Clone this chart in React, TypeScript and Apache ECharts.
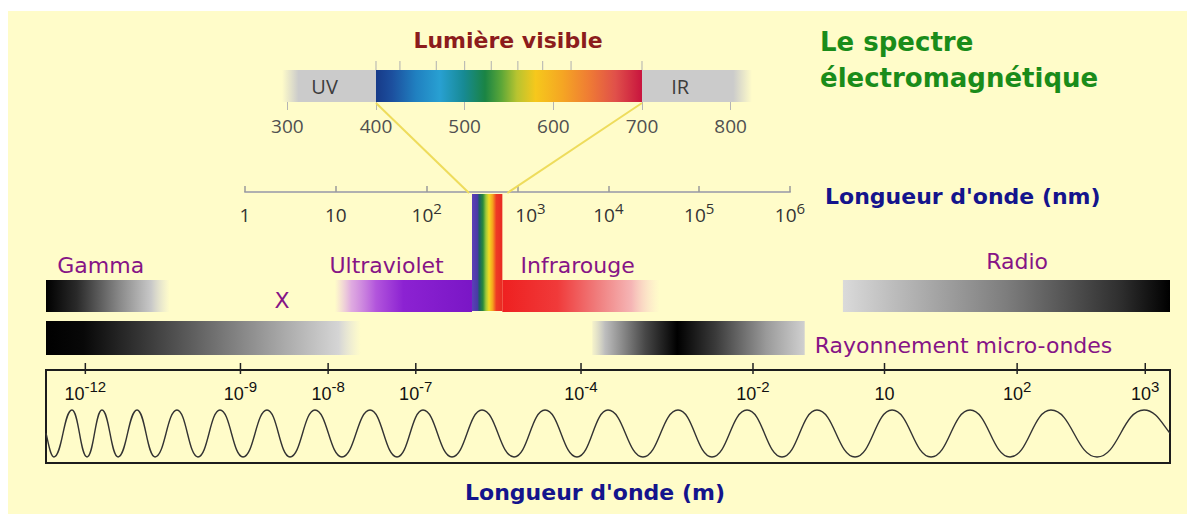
import React, { useEffect, useRef } from "react";
import * as echarts from "echarts";

// ---------------- data ----------------
// Visible-light inset (wavelength in nm)
const visibleAxisTicks = [300, 400, 500, 600, 700, 800];
const visibleTopTicks = [400, 427, 468, 500, 530, 560, 588, 620, 700];
const visibleBandNames = ["UV-IR", "Visible"];
const visibleBandStart = [294, 400];
const visibleBandEnd = [824, 700];
const sideLabels = ["UV", "IR"];
const sideLabelNm = [342, 743];

// Wavelength axis in nm (log)
const nmTicks = [1, 10, 100, 1000, 10000, 100000, 1000000];

// Wavelength axis in m (illustrative, position in % of the box width)
const meterTickPos = [3.5, 17.3, 25.1, 32.9, 47.6, 62.9, 74.6, 86.4, 97.8];
const meterTickExp = ["-12", "-9", "-8", "-7", "-4", "-2", "1", "2", "3"];

// Bands (position in % of the box width)
const bandNames = ["Gamma", "X", "Ultraviolet", "Visible", "Infrarouge", "Micro-ondes", "Radio"];
const bandStart = [0, 0, 25.7, 37.9, 40.6, 48.6, 70.9];
const bandEnd = [11.0, 28.0, 37.9, 40.6, 54.6, 67.5, 100];
const bandRow = ["upper", "lower", "upper", "strip", "upper", "lower", "upper"];

const bandLabelTexts = ["Gamma", "X", "Ultraviolet", "Infrarouge", "Radio", "Rayonnement micro-ondes"];
const bandLabelPos = [1.0, 21.0, 30.3, 47.3, 86.4, 68.4];
const bandLabelRow = ["above", "upper", "above", "above", "aboveRadio", "lower"];

// Wave extrema (position in % of the box width)
const wavePeaks = [2.31, 4.98, 8.1, 11.65, 15.48, 19.66, 23.93, 28.83, 33.54, 38.79, 44.4, 50.0, 56.23, 62.37, 68.59, 75.27, 82.21, 89.41, 97.69];
const waveTroughs = [0.71, 3.65, 6.41, 9.7, 13.52, 17.53, 21.71, 26.33, 31.23, 36.12, 41.64, 47.24, 53.11, 59.25, 65.48, 71.98, 78.74, 85.77, 93.51];
const waveEnds = [0, 100];

// ---------------- layout / styles ----------------
const rowTop: Record<string, number> = { strip: 4, upper: 90, lower: 131 };
const rowBottom: Record<string, number> = { strip: 121, upper: 122, lower: 165 };
const labelRowY: Record<string, number> = { above: 75, aboveRadio: 71, upper: 110, lower: 155 };
const waveLevel = { high: 5.7, low: 0.65, mid: 3.2 };

const lin = (stops: [number, string][]) => ({
  type: "linear",
  x: 0,
  y: 0,
  x2: 1,
  y2: 0,
  colorStops: stops.map(([offset, color]) => ({ offset, color })),
});

const visibleFill: Record<string, any> = {
  "UV-IR": lin([
    [0, "rgba(203,203,203,0)"],
    [0.035, "#cbcbcb"],
    [0.96, "#cbcbcb"],
    [1, "rgba(203,203,203,0)"],
  ]),
  Visible: lin([
    [0, "#173a88"],
    [0.06, "#1c4f9e"],
    [0.15, "#2080c0"],
    [0.24, "#28a0d2"],
    [0.33, "#178a94"],
    [0.41, "#1a8444"],
    [0.47, "#5aa638"],
    [0.53, "#b8c430"],
    [0.6, "#f6c81c"],
    [0.7, "#f5a623"],
    [0.8, "#ef7c34"],
    [0.9, "#e0504a"],
    [1, "#c8143e"],
  ]),
};

const bandFill: Record<string, any> = {
  Gamma: lin([[0, "#000"], [0.25, "#2a2a2a"], [0.6, "#8a8a8a"], [0.85, "#c8c8c8"], [1, "rgba(215,215,215,0)"]]),
  X: lin([[0, "#000"], [0.12, "#080808"], [0.45, "#5a5a5a"], [0.75, "#a8a8a8"], [0.93, "#d5d5d5"], [1, "rgba(225,225,225,0)"]]),
  Ultraviolet: lin([[0, "rgba(225,170,235,0)"], [0.12, "rgba(215,150,230,0.8)"], [0.3, "#b255dc"], [0.5, "#8c22d2"], [1, "#7a16c6"]]),
  Visible: lin([[0, "#5b3fb8"], [0.18, "#4a3aa6"], [0.24, "#1c5e66"], [0.36, "#2a8a3c"], [0.46, "#9ec83a"], [0.56, "#f2dc22"], [0.68, "#f6a21e"], [0.8, "#ee3a24"], [1, "#e82a24"]]),
  Infrarouge: lin([[0, "#ee2020"], [0.35, "#f03a3a"], [0.6, "#f07c7c"], [0.82, "#f5b5b5"], [1, "rgba(250,215,210,0)"]]),
  "Micro-ondes": lin([[0, "rgba(205,205,205,0.2)"], [0.06, "#bdbdbd"], [0.25, "#474747"], [0.4, "#000"], [0.58, "#3a3a3a"], [0.82, "#9a9a9a"], [1, "#d0d0d0"]]),
  Radio: lin([[0, "#dadada"], [0.15, "#bdbdbd"], [0.5, "#7d7d7d"], [0.85, "#2e2e2e"], [1, "#000"]]),
};

const leftAligned = new Set(["Gamma", "Rayonnement micro-ondes"]);
const PURPLE = "#861486";
const FONT = "DejaVu Sans";

// custom tick marks drawn at the top edge of a grid
const topTicks = (top: number, above: number, below: number, color: string, width: number) =>
  (params: any, api: any) => {
    const p = api.coord([api.value(0), top]);
    return {
      type: "line",
      shape: { x1: p[0], y1: p[1] - above, x2: p[0], y2: p[1] + below },
      style: { stroke: color, lineWidth: width },
    };
  };

function buildOption() {
  const waveX = [...waveEnds, ...wavePeaks, ...waveTroughs].sort((a, b) => a - b);
  const waveKind = waveX.map((x) =>
    waveEnds.includes(x) ? "mid" : wavePeaks.includes(x) ? "high" : "low"
  ) as ("mid" | "high" | "low")[];

  return {
    animation: false,
    backgroundColor: "#ffffff",
    textStyle: { fontFamily: FONT },
    grid: [
      { left: 287.33, width: 443.33, top: 70, height: 32 },
      { left: 245, width: 545, top: 170, height: 22 },
      { left: 46, width: 1124, top: 190, height: 170 },
      { left: 46, width: 1124, top: 370, height: 93, show: true, borderColor: "#1c1c1c", borderWidth: 2, backgroundColor: "transparent" },
    ],
    xAxis: [
      {
        gridIndex: 0,
        type: "value",
        position: "bottom",
        min: 300,
        max: 800,
        interval: 100,
        axisLine: { show: false },
        splitLine: { show: false },
        axisTick: { show: true, length: 8, lineStyle: { color: "#b4b4b4", width: 1 } },
        axisLabel: { margin: 14, color: "#505050", fontSize: 19, fontFamily: "Open Sans" },
      },
      {
        gridIndex: 1,
        type: "log",
        logBase: 10,
        min: 1,
        max: 1000000,
        position: "bottom",
        axisLine: { show: true, lineStyle: { color: "#b0b0b0", width: 2 } },
        splitLine: { show: false },
        axisTick: { show: true, inside: true, length: 6, customValues: nmTicks, lineStyle: { color: "#9a9a9a", width: 1.5 } },
        axisLabel: {
          customValues: nmTicks,
          margin: 8,
          formatter: (v: number) => {
            const e = Math.round(Math.log10(v));
            if (e === 0) return "{b|1}";
            if (e === 1) return "{b|10}";
            if (e === 3) return `{gap| }{b|10}{s|${e}}`;
            return `{b|10}{s|${e}}`;
          },
          rich: {
            b: { fontSize: 19, fontFamily: "Open Sans", color: "#333", lineHeight: 24, verticalAlign: "bottom" },
            s: { fontSize: 15, fontFamily: "Open Sans", color: "#333", lineHeight: 14, verticalAlign: "top" },
            gap: { width: 26, fontSize: 10 },
          },
        },
      },
      { gridIndex: 2, type: "value", min: 0, max: 100, show: false },
      {
        gridIndex: 3,
        type: "value",
        position: "top",
        min: 0,
        max: 100,
        axisLine: { show: false },
        splitLine: { show: false },
        axisTick: { show: false },
        axisLabel: {
          customValues: meterTickPos,
          inside: true,
          margin: 9,
          formatter: (v: number) => {
            const i = meterTickPos.findIndex((p) => Math.abs(p - v) < 1e-6);
            const e = i >= 0 ? meterTickExp[i] : "";
            return e === "1" ? "{b|10}" : `{b|10}{s|${e}}`;
          },
          rich: {
            b: { fontSize: 18, fontFamily: "Liberation Sans", color: "#111", lineHeight: 24, verticalAlign: "bottom" },
            s: { fontSize: 15, fontFamily: "Liberation Sans", color: "#111", lineHeight: 14, verticalAlign: "top" },
          },
        },
      },
    ],
    yAxis: [
      { gridIndex: 0, type: "value", min: 0, max: 1, show: false },
      { gridIndex: 1, type: "value", min: 0, max: 1, show: false },
      { gridIndex: 2, type: "value", min: 0, max: 170, inverse: true, show: false },
      { gridIndex: 3, type: "value", min: 0, max: 10, show: false },
    ],
    series: [
      {
        type: "custom",
        name: "visible-bars",
        xAxisIndex: 0,
        yAxisIndex: 0,
        silent: true,
        data: visibleBandNames.map((n, i) => [visibleBandStart[i], visibleBandEnd[i]]),
        renderItem: (params: any, api: any) => {
          const a = api.coord([api.value(0), 1]);
          const b = api.coord([api.value(1), 0]);
          return {
            type: "rect",
            shape: { x: a[0], y: a[1], width: b[0] - a[0], height: b[1] - a[1] },
            style: { fill: visibleFill[visibleBandNames[params.dataIndex]] },
          };
        },
      },
      {
        type: "custom",
        name: "visible-top-ticks",
        xAxisIndex: 0,
        yAxisIndex: 0,
        silent: true,
        data: visibleTopTicks.map((v) => [v, 1]),
        renderItem: topTicks(1, 9, 0, "#b0b0b0", 1),
      },
      {
        type: "custom",
        name: "visible-side-labels",
        xAxisIndex: 0,
        yAxisIndex: 0,
        silent: true,
        z: 5,
        data: sideLabels.map((t, i) => [sideLabelNm[i], 0.5]),
        renderItem: (params: any, api: any) => {
          const p = api.coord([api.value(0), api.value(1)]);
          return {
            type: "text",
            x: p[0],
            y: p[1],
            style: {
              text: sideLabels[params.dataIndex],
              fill: "#3c3c3c",
              fontSize: 20,
              fontFamily: "Open Sans",
              align: "center",
              verticalAlign: "middle",
            },
          };
        },
      },
      {
        type: "custom",
        name: "bands",
        xAxisIndex: 2,
        yAxisIndex: 2,
        silent: true,
        data: bandNames.map((n, i) => [bandStart[i], bandEnd[i], rowTop[bandRow[i]], rowBottom[bandRow[i]]]),
        renderItem: (params: any, api: any) => {
          const a = api.coord([api.value(0), api.value(2)]);
          const b = api.coord([api.value(1), api.value(3)]);
          return {
            type: "rect",
            shape: { x: a[0], y: a[1], width: b[0] - a[0], height: b[1] - a[1] },
            style: { fill: bandFill[bandNames[params.dataIndex]] },
          };
        },
      },
      {
        type: "custom",
        name: "band-labels",
        xAxisIndex: 2,
        yAxisIndex: 2,
        silent: true,
        z: 5,
        data: bandLabelTexts.map((t, i) => [bandLabelPos[i], labelRowY[bandLabelRow[i]]]),
        renderItem: (params: any, api: any) => {
          const p = api.coord([api.value(0), api.value(1)]);
          const t = bandLabelTexts[params.dataIndex];
          return {
            type: "text",
            x: p[0],
            y: p[1],
            style: {
              text: t,
              fill: PURPLE,
              fontSize: 22,
              fontFamily: FONT,
              align: leftAligned.has(t) ? "left" : "center",
              verticalAlign: "middle",
            },
          };
        },
      },
      {
        type: "custom",
        name: "meter-ticks",
        xAxisIndex: 3,
        yAxisIndex: 3,
        silent: true,
        z: 4,
        data: meterTickPos.map((v) => [v, 10]),
        renderItem: topTicks(10, 7, 4, "#222", 1.5),
      },
      {
        type: "custom",
        name: "wave",
        xAxisIndex: 3,
        yAxisIndex: 3,
        silent: true,
        data: [[0, 0]],
        renderItem: (params: any, api: any) => {
          const pts = waveX.map((x, i) => api.coord([x, waveLevel[waveKind[i]]]));
          let d = `M${pts[0][0]},${pts[0][1]}`;
          const k = 0.45;
          for (let i = 1; i < pts.length; i++) {
            const [x0, y0] = pts[i - 1];
            const [x1, y1] = pts[i];
            const dx = x1 - x0;
            const startMid = waveKind[i - 1] === "mid";
            const endMid = waveKind[i] === "mid";
            const c1x = startMid ? x0 + dx * 0.3 : x0 + dx * k;
            const c1y = startMid ? y0 + (y1 - y0) * 0.4 : y0;
            const c2x = endMid ? x1 - dx * 0.3 : x1 - dx * k;
            const c2y = endMid ? y1 - (y1 - y0) * 0.4 : y1;
            d += ` C${c1x},${c1y} ${c2x},${c2y} ${x1},${y1}`;
          }
          return {
            type: "path",
            shape: { pathData: d },
            style: { stroke: "#333", fill: "none", lineWidth: 1.4 },
          };
        },
      },
    ],
    graphic: [
      { type: "rect", id: "bg", z: -100, shape: { x: 8, y: 11, width: 1179, height: 503 }, style: { fill: "#FFFCC9" } },
      {
        type: "text",
        id: "t-visible",
        z: 10,
        style: { text: "Lumière visible", x: 508, y: 40, fill: "#8C1C1C", font: `bold 22px "${FONT}"`, textAlign: "center", textVerticalAlign: "middle", align: "center", verticalAlign: "middle" },
      },
      {
        type: "text",
        id: "t-title1",
        z: 10,
        style: { text: "Le spectre", x: 820, y: 42, fill: "#1A8C1A", font: `bold 26px "${FONT}"`, textAlign: "left", textVerticalAlign: "middle", align: "left", verticalAlign: "middle" },
      },
      {
        type: "text",
        id: "t-title2",
        z: 10,
        style: { text: "électromagnétique", x: 820, y: 78, fill: "#1A8C1A", font: `bold 26px "${FONT}"`, textAlign: "left", textVerticalAlign: "middle", align: "left", verticalAlign: "middle" },
      },
      {
        type: "text",
        id: "t-nm",
        z: 10,
        style: { text: "Longueur d'onde (nm)", x: 825, y: 196, fill: "#14148C", font: `bold 22px "${FONT}"`, textAlign: "left", textVerticalAlign: "middle", align: "left", verticalAlign: "middle" },
      },
      {
        type: "text",
        id: "t-m",
        z: 10,
        style: { text: "Longueur d'onde (m)", x: 595, y: 492, fill: "#14148C", font: `bold 22px "${FONT}"`, textAlign: "center", textVerticalAlign: "middle", align: "center", verticalAlign: "middle" },
      },
    ],
  };
}

export default function App() {
  const ref = useRef<HTMLDivElement>(null);
  useEffect(() => {
    if (!ref.current) return;
    const chart = echarts.init(ref.current, null, { renderer: "svg" });
    chart.setOption(buildOption() as any);

    // connector lines from the visible inset (400 / 700 nm) to the visible strip
    const stripIdx = bandNames.indexOf("Visible");
    const xTopL = chart.convertToPixel({ xAxisIndex: 0 } as any, visibleBandStart[1]) as number;
    const xTopR = chart.convertToPixel({ xAxisIndex: 0 } as any, visibleBandEnd[1]) as number;
    const yTop = chart.convertToPixel({ yAxisIndex: 0 } as any, 0) as number;
    const bl = chart.convertToPixel({ gridIndex: 2 } as any, [bandStart[stripIdx], rowTop.strip]) as number[];
    const br = chart.convertToPixel({ gridIndex: 2 } as any, [bandEnd[stripIdx], rowTop.strip]) as number[];
    chart.setOption({
      graphic: [
        { type: "line", id: "conn-l", z: 1, shape: { x1: xTopL, y1: yTop + 1, x2: bl[0] - 3, y2: bl[1] - 1 }, style: { stroke: "#EEDC5C", lineWidth: 2 } },
        { type: "line", id: "conn-r", z: 1, shape: { x1: xTopR, y1: yTop + 1, x2: br[0] + 5, y2: br[1] - 1 }, style: { stroke: "#EEDC5C", lineWidth: 2 } },
      ],
    } as any);
    return () => chart.dispose();
  }, []);
  return <div ref={ref} style={{ position: "fixed", left: 0, top: 0, width: 1187, height: 514 }} />;
}
